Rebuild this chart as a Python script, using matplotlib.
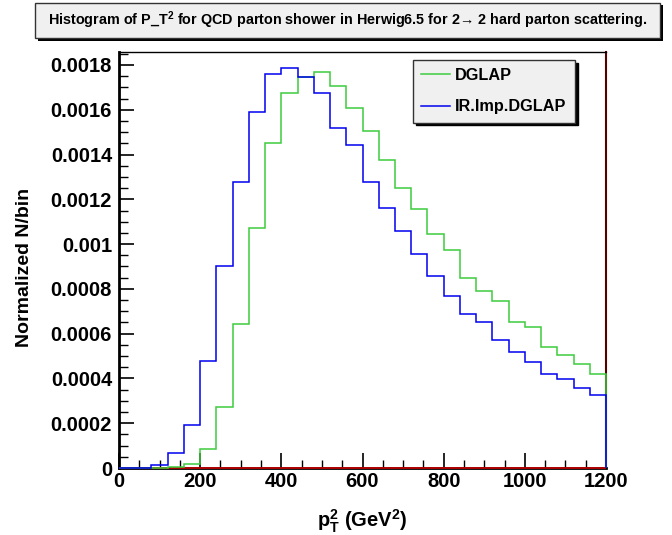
import matplotlib
matplotlib.use('Agg')
import matplotlib.pyplot as plt
from matplotlib.patches import Rectangle
from matplotlib.ticker import MultipleLocator, FuncFormatter
import numpy as np

plt.rcParams['font.family'] = ['Liberation Sans', 'DejaVu Sans']
plt.rcParams['font.weight'] = 'bold'
plt.rcParams['mathtext.fontset'] = 'custom'
plt.rcParams['mathtext.rm'] = 'Liberation Sans:bold'
plt.rcParams['mathtext.bf'] = 'Liberation Sans:bold'

# 30 bins of 40 GeV^2 from 0 to 1200
edges = np.arange(0, 1201, 40)

# values, in units of 1e-4
dglap = [0, 0, 0, 0.03, 0.2, 0.86, 2.71, 6.45, 10.73, 14.5,
         16.75, 17.48, 17.67, 17.05, 16.09, 15.04, 13.76, 12.52, 11.55, 10.45,
         9.72, 8.49, 7.91, 7.47, 6.51, 6.30, 5.40, 5.06, 4.64, 4.20]
ir_imp = [0, 0, 0.15, 0.67, 1.9, 4.76, 9.02, 12.79, 15.9, 17.6,
          17.85, 17.45, 16.76, 15.2, 14.44, 12.77, 11.63, 10.60, 9.54, 8.59,
          7.70, 6.88, 6.51, 5.73, 5.17, 4.73, 4.21, 3.98, 3.57, 3.26]
empty = [0] * 30

dglap = np.array(dglap) * 1e-4
ir_imp = np.array(ir_imp) * 1e-4

W, H = 672, 535
fig = plt.figure(figsize=(W / 100, H / 100), dpi=100)
ax = fig.add_axes([119 / W, 1 - 468 / H, (606 - 119) / W, (468 - 52) / H])

ax.stairs(empty, edges, color='#cc0000', lw=1.2, zorder=3, clip_on=False)
ax.stairs(dglap, edges, color='#3ccc3c', lw=1.1, label='DGLAP', zorder=4, clip_on=False)
ax.stairs(ir_imp, edges, color='#0000ee', lw=1.1, label='IR.Imp.DGLAP', zorder=4, clip_on=False)

ax.set_xlim(0, 1200)
ax.set_ylim(0, 0.001858)
ax.xaxis.set_major_locator(MultipleLocator(200))
ax.xaxis.set_minor_locator(MultipleLocator(50))
ax.yaxis.set_major_locator(MultipleLocator(0.0002))
ax.yaxis.set_minor_locator(MultipleLocator(0.00005))
ax.yaxis.set_major_formatter(FuncFormatter(lambda v, p: '0' if v == 0 else ('%.4f' % v).rstrip('0')))
ax.tick_params(which='major', direction='in', length=11, width=1.2, labelsize=14.5, pad=5)
ax.tick_params(which='minor', direction='in', length=6.5, width=1.0)
ax.tick_params(axis='x', which='major', length=11, pad=3)
ax.tick_params(axis='x', which='minor', length=6)
for lab in ax.get_xticklabels() + ax.get_yticklabels():
    lab.set_fontweight('bold')

for s in ['left', 'bottom']:
    ax.spines[s].set_linewidth(2)
ax.spines['top'].set_linewidth(1)
ax.spines['right'].set_linewidth(1.5)
ax.spines['right'].set_color('#550000')

ax.set_ylabel('Normalized N/bin', fontsize=14, fontweight='bold')
ax.yaxis.set_label_coords(33 / W, 0.5, transform=fig.transFigure)
ax.set_xlabel(r'$\mathbf{p_T^2}$ (GeV$^\mathbf{2}$)', fontsize=14.5, fontweight='bold', labelpad=12)

leg = ax.legend(loc='upper left', bbox_to_anchor=((413 - 119) / (606 - 119), 1 - (60 - 52) / (468 - 52)),
                frameon=True, fancybox=False, shadow={'color': 'black', 'alpha': 1},
                fontsize=11.7, handlelength=1.75, borderpad=0.5, labelspacing=1.0,
                handletextpad=0.35, borderaxespad=0)
leg.get_frame().set_facecolor('#f0f0f0')
leg.get_frame().set_edgecolor('#333333')
leg.get_frame().set_linewidth(1)
leg.get_frame().set_alpha(1)
for t in leg.get_texts():
    t.set_fontweight('bold')

# title box with shadow
bx, by, bw, bh = 35, 3, 625, 35
fig.patches.append(Rectangle(((bx + 2.5) / W, 1 - (by + bh + 2.5) / H), bw / W, bh / H,
                             transform=fig.transFigure, facecolor='black', edgecolor='none', zorder=0))
fig.patches.append(Rectangle((bx / W, 1 - (by + bh) / H), bw / W, bh / H,
                             transform=fig.transFigure, facecolor='#f0f0f0', edgecolor='#333333', lw=1, zorder=1))
fig.text((bx + bw / 2) / W, 1 - (by + bh / 2) / H,
         'Histogram of P_T$^\\mathbf{2}$ for QCD parton shower in Herwig6.5 for 2\u2192 2 hard parton scattering.',
         ha='center', va='center', fontsize=10.4, fontweight='bold', zorder=2)

fig.savefig('out.png', dpi=100)
